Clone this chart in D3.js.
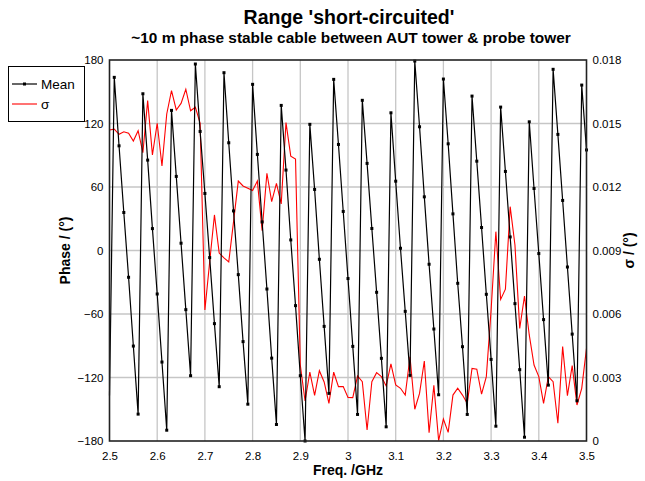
<!DOCTYPE html>
<html lang="en">
<head>
    <meta charset="utf-8">
    <title>Range 'short-circuited'</title>
    <script src="https://d3js.org/d3.v7.min.js"></script>
    <style>
        body {
            margin: 0;
            font-family: "Liberation Sans", Arial, sans-serif;
            background: #fff;
        }
        .tick text {
            font-size: 11.5px;
            fill: #000;
        }
        .grid line {
            stroke: #c6c6c6;
            stroke-width: 1.3px;
        }
        .title {
            font-size: 19.5px;
            font-weight: bold;
            text-anchor: middle;
        }
        .subtitle {
            font-size: 15.4px;
            font-weight: bold;
            text-anchor: middle;
        }
        .axis-title {
            font-size: 14px;
            font-weight: bold;
            text-anchor: middle;
        }
        .legend text {
            font-size: 13.5px;
        }
    </style>
</head>
<body>
    <svg id="chart" width="645" height="481"></svg>
    <script>
        // frequency axis, 0.01 GHz steps
        const freqs = d3.range(101).map(i => +(2.5 + i * 0.01).toFixed(2));

        const meanPhase = [
            -137, 163.6, 98.9, 35.9, -25.3, -90.3, -154.6, 148.1, 85.4, 20.7,
            -41.1, -105.4, -169.8, 132.4, 70, 6.9, -55.9, -118.3, 176.2, 112.5,
            53.9, -6.7, -69.1, -128.7, 168, 101.8, 37.4, -22.8, -86.1, -145.2,
            157, 90.8, 27, -36.4, -101.7, -164.4, 137.1, 76, 10, -52.1,
            -118.3, -180, 119.2, 57.7, -8.3, -71.7, -135, 161.7, 100.2, 36.9,
            -26.5, -90.6, -154.9, 141.9, 82.3, 20.8, -39.5, -101.9, -166.6, 130.1,
            65.5, 2.1, -57.5, -118, 179, 116.9, 50.7, -13, -74.2, -136.3,
            162, 100.8, 34.6, -31, -90.9, -154.9, 145.9, 84.4, 21.7, -41.4,
            -102.9, -166, 135.5, 74.7, 12.8, -50.2, -112.6, -176.4, 121.6, 58.6,
            -2.9, -65.3, -127.2, 171.2, 109.7, 47.3, -15.6, -79, -142, 156.3,
            95
        ];

        const sigma = [
            0.01469, 0.01473, 0.01449, 0.01461, 0.01454, 0.01417, 0.01466, 0.01362, 0.01608, 0.01351,
            0.01501, 0.01299, 0.01545, 0.01655, 0.01564, 0.01595, 0.01662, 0.01560, 0.01577, 0.01501,
            0.00619, 0.00846, 0.01068, 0.00888, 0.00865, 0.00846, 0.01035, 0.01228, 0.01205, 0.01194,
            0.01183, 0.01228, 0.00994, 0.01265, 0.01131, 0.01217, 0.01120, 0.01504, 0.01346, 0.01332,
            0.00359, 0.00189, 0.00325, 0.00216, 0.00332, 0.00279, 0.00178, 0.00325, 0.00257, 0.00257,
            0.00206, 0.00205, 0.00307, 0.00280, 0.00052, 0.00280, 0.00323, 0.00304, 0.00260, 0.00364,
            0.00265, 0.00249, 0.00217, 0.00398, 0.00150, 0.00225, 0.00378, 0.00039, 0.00263, 0.00002,
            0.00104, 0.00041, 0.00217, 0.00249, 0.00217, 0.00178, 0.00343, 0.00339, 0.00221, 0.00304,
            0.00619, 0.00989, 0.00669, 0.00717, 0.01107, 0.00926, 0.00532, 0.00685, 0.00501, 0.00359,
            0.00304, 0.00178, 0.00304, 0.00280, 0.00084, 0.00446, 0.00214, 0.00356, 0.00170, 0.00249,
            0.00438
        ];

        const xTicks = d3.range(11).map(i => +(2.5 + i * 0.1).toFixed(1));
        const yTicks = [-180, -120, -60, 0, 60, 120, 180];
        const y2Ticks = [0, 0.003, 0.006, 0.009, 0.012, 0.015, 0.018];

        const plotLeft = 109.5, plotRight = 586.5, plotTop = 60, plotBottom = 441;

        const svg = d3.select('#chart');

        const x = d3.scaleLinear().domain([2.5, 3.5]).range([plotLeft, plotRight]);
        const y = d3.scaleLinear().domain([-180, 180]).range([plotBottom, plotTop]);
        const y2 = d3.scaleLinear().domain([0, 0.018]).range([plotBottom, plotTop]);

        // grid
        svg.append('g').attr('class', 'grid')
            .selectAll('line').data(xTicks.slice(1, -1)).enter().append('line')
            .attr('x1', d => x(d)).attr('x2', d => x(d))
            .attr('y1', plotTop).attr('y2', plotBottom);
        svg.append('g').attr('class', 'grid')
            .selectAll('line').data(yTicks.slice(1, -1)).enter().append('line')
            .attr('x1', plotLeft).attr('x2', plotRight)
            .attr('y1', d => y(d)).attr('y2', d => y(d));

        // sigma line
        svg.append('path')
            .datum(freqs.map((f, i) => [f, sigma[i]]))
            .attr('fill', 'none')
            .attr('stroke', '#ff0000')
            .attr('stroke-width', 1.1)
            .attr('d', d3.line().x(d => x(d[0])).y(d => y2(d[1])));

        // mean phase line with markers
        const meanData = freqs.map((f, i) => [f, meanPhase[i]]);
        svg.append('path')
            .datum(meanData)
            .attr('fill', 'none')
            .attr('stroke', '#000')
            .attr('stroke-width', 1.2)
            .attr('d', d3.line().x(d => x(d[0])).y(d => y(d[1])));
        svg.append('g').selectAll('rect')
            .data(meanData.slice(1)).enter().append('rect')
            .attr('x', d => x(d[0]) - 1.5)
            .attr('y', d => y(d[1]) - 1.5)
            .attr('width', 3).attr('height', 3)
            .attr('fill', '#000');

        // frame
        svg.append('rect')
            .attr('x', plotLeft).attr('y', plotTop)
            .attr('width', plotRight - plotLeft).attr('height', plotBottom - plotTop)
            .attr('fill', 'none')
            .attr('stroke', '#222')
            .attr('stroke-width', 1.6);

        // axes
        svg.append('g')
            .attr('transform', `translate(0,${plotBottom})`)
            .call(d3.axisBottom(x).tickValues(xTicks).tickSize(0).tickPadding(11)
                .tickFormat(d => d === 3 ? '3' : d3.format('.1f')(d)))
            .call(g => g.select('.domain').remove());

        svg.append('g')
            .attr('transform', `translate(${plotLeft},0)`)
            .call(d3.axisLeft(y).tickValues(yTicks).tickSize(0).tickPadding(6))
            .call(g => g.select('.domain').remove());

        svg.append('g')
            .attr('transform', `translate(${plotRight},0)`)
            .call(d3.axisRight(y2).tickValues(y2Ticks).tickSize(0).tickPadding(6)
                .tickFormat(d => d === 0 ? '0' : d3.format('.3f')(d)))
            .call(g => g.select('.domain').remove());

        // titles
        svg.append('text').attr('class', 'title')
            .attr('x', 349).attr('y', 24)
            .text("Range 'short-circuited'");
        svg.append('text').attr('class', 'subtitle')
            .attr('x', 351).attr('y', 43)
            .text('~10 m phase stable cable between AUT tower & probe tower');
        svg.append('text').attr('class', 'axis-title')
            .attr('x', (plotLeft + plotRight) / 2).attr('y', 475)
            .text('Freq. /GHz');
        svg.append('text').attr('class', 'axis-title')
            .attr('transform', `translate(70,${(plotTop + plotBottom) / 2}) rotate(-90)`)
            .text('Phase / (°)');
        svg.append('text').attr('class', 'axis-title')
            .attr('transform', `translate(634,${(plotTop + plotBottom) / 2}) rotate(-90)`)
            .text('σ / (°)');

        // legend
        const legend = svg.append('g').attr('class', 'legend');
        legend.append('rect')
            .attr('x', 8.5).attr('y', 66.5)
            .attr('width', 76).attr('height', 55)
            .attr('fill', '#fff').attr('stroke', '#000').attr('stroke-width', 1);
        legend.append('line')
            .attr('x1', 12).attr('x2', 37).attr('y1', 84).attr('y2', 84)
            .attr('stroke', '#000').attr('stroke-width', 1.2);
        legend.append('rect')
            .attr('x', 23).attr('y', 82.5).attr('width', 3).attr('height', 3).attr('fill', '#000');
        legend.append('text').attr('x', 41).attr('y', 89).text('Mean');
        legend.append('line')
            .attr('x1', 12).attr('x2', 37).attr('y1', 104).attr('y2', 104)
            .attr('stroke', '#ff0000').attr('stroke-width', 1.1);
        legend.append('text').attr('x', 41).attr('y', 109).text('σ');
    </script>
</body>
</html>
